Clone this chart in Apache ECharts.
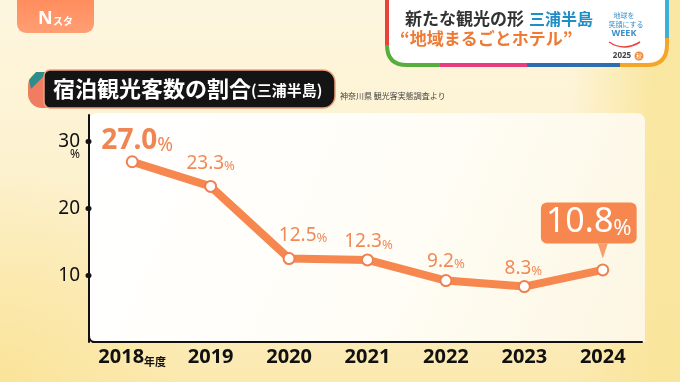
<!DOCTYPE html>
<html><head><meta charset="utf-8">
<script src="https://cdn.jsdelivr.net/npm/echarts@6/dist/echarts.min.js"></script>
<style>
html,body{margin:0;padding:0;}
body{width:680px;height:382px;overflow:hidden;
background:
 radial-gradient(ellipse 30% 55% at 0% 100%, rgba(250,226,145,0.7) 0%, rgba(250,226,145,0) 100%),
 linear-gradient(to right, rgba(249,228,152,0) 0%, rgba(249,228,152,0) 84%, rgba(249,228,152,0.85) 96%),
 linear-gradient(to bottom, #fdf6df 0%, #fdf3d3 35%, #fcedc0 75%, #fbe9b0 100%);}
#c{width:680px;height:382px;}
</style></head><body><div id="c"></div>
<script>
// ---- data ----
const categories = ['2018年度', '2019', '2020', '2021', '2022', '2023', '2024'];
const shareValues = [27.0, 23.3, 12.5, 12.3, 9.2, 8.3, 10.8];
const yTickValues = [10, 20, 30];
const highlightIndex = 6;

// ---- label placement (style only) ----
const labelOffsets = [[5, -21], [0, -23], [14, -23], [1, -18], [0, -19], [-1, -18], [-14, -47]];

const ORANGE = '#f5874f';
const LABEL = '#f08a58';
const FONT = '"Noto Sans", "Noto Sans CJK JP", sans-serif';
const CJK = '"Noto Sans CJK JP", "Noto Sans", sans-serif';

function makeLabel(i) {
  const base = {
    show: true, position: 'inside',
    formatter: p => '{n|' + Number(p.value).toFixed(1) + '}{p|%}'
  };
  if (i === 0) {
    base.rich = {
      n: {fontSize: 28, fontWeight: 'bold', color: '#ef8550', fontFamily: FONT, verticalAlign: 'bottom'},
      p: {fontSize: 19, color: '#ef8550', fontFamily: FONT, verticalAlign: 'bottom'}
    };
  } else if (i === highlightIndex) {
    base.backgroundColor = ORANGE;
    base.borderRadius = 6;
    base.padding = [3, 5, 4, 5];
    base.rich = {
      n: {fontSize: 34, color: '#ffffff', fontFamily: FONT, verticalAlign: 'bottom'},
      p: {fontSize: 22, color: '#ffffff', fontFamily: FONT, verticalAlign: 'bottom'}
    };
  } else {
    base.rich = {
      n: {fontSize: 19, color: LABEL, fontFamily: FONT, verticalAlign: 'bottom'},
      p: {fontSize: 13, color: LABEL, fontFamily: FONT, verticalAlign: 'bottom'}
    };
  }
  return base;
}

function seg(x1, y1, x2, y2, color, w) {
  return {type: 'line', z: 6, silent: true, shape: {x1, y1, x2, y2}, style: {stroke: color, lineWidth: w, lineCap: 'butt'}};
}
function curve(x1, y1, cx, cy, x2, y2, color, w, z) {
  return {type: 'bezierCurve', z: z || 6, silent: true, shape: {x1, y1, x2, y2, cpx1: cx, cpy1: cy}, style: {stroke: color, lineWidth: w, fill: null}};
}

const chart = echarts.init(document.getElementById('c'), null, {renderer: 'canvas'});

const option = {
  backgroundColor: 'transparent',
  animation: false,
  grid: {left: 93, right: 38, top: 115, bottom: 40, containLabel: false},
  xAxis: {
    type: 'category', data: categories, boundaryGap: true,
    axisLine: {show: true, lineStyle: {color: '#111', width: 2}},
    axisTick: {show: false},
    axisLabel: {
      interval: 0, margin: 5, color: '#111', fontSize: 20, fontWeight: 'bold', fontFamily: FONT,
      formatter: v => v.endsWith('年度') ? '{y|' + v.slice(0, -2) + '}{s|年度}' : '{y|' + v + '}',
      rich: {
        y: {fontSize: 20, fontWeight: 'bold', color: '#111', fontFamily: FONT, verticalAlign: 'bottom'},
        s: {fontSize: 11, fontWeight: 'bold', color: '#111', fontFamily: CJK, verticalAlign: 'bottom'}
      }
    },
    splitLine: {show: false}
  },
  yAxis: {
    type: 'value', min: 0, max: 34, interval: 10, offset: 4,
    axisLine: {show: true, lineStyle: {color: '#111', width: 2}},
    axisTick: {show: true, customValues: yTickValues, length: 1, lineStyle: {color: '#111', width: 5, cap: 'round'}},
    axisLabel: {customValues: yTickValues, margin: 9, color: '#111', fontSize: 19, fontFamily: FONT},
    splitLine: {show: false}
  },
  series: [
    {
      type: 'line', z: 3,
      data: shareValues.map((v, i) => ({value: v, label: makeLabel(i)})),
      lineStyle: {color: ORANGE, width: 8},
      symbol: 'circle', symbolSize: 11,
      itemStyle: {color: '#ffffff', borderColor: '#f08050', borderWidth: 2},
      labelLayout: p => ({dx: labelOffsets[p.dataIndex][0], dy: labelOffsets[p.dataIndex][1], hideOverlap: false})
    },
    {
      type: 'scatter', z: 4, silent: true,
      data: shareValues.map((v, i) => i === highlightIndex ? v : '-'),
      symbol: 'path://M0,0 L10,0 L5,12 Z', symbolSize: [10, 15], symbolOffset: [0, -19],
      itemStyle: {color: ORANGE}
    }
  ],
  graphic: [
    // white plot panel
    {type: 'rect', z: -10, silent: true, shape: {x: 89, y: 113, width: 556, height: 229, r: [8, 8, 0, 0]},
      style: {fill: new echarts.graphic.LinearGradient(0, 0, 1, 1, [
        {offset: 0, color: '#ffffff'}, {offset: 0.55, color: '#fffdf6'}, {offset: 1, color: '#fcf6e2'}])}},
    // axis corner
    curve(89, 336, 89, 342, 95, 342, '#111', 2, 5),
    {type: 'text', z: 5, style: {text: '%', x: 75, y: 155, fontSize: 12, fontFamily: FONT, fill: '#111', align: 'center', verticalAlign: 'middle'}},
    // top-left logo
    {type: 'rect', z: 5, shape: {x: 17, y: -12, width: 77, height: 45, r: 9},
      style: {fill: new echarts.graphic.LinearGradient(0, 0, 0, 1, [{offset: 0, color: '#ff8656'}, {offset: 1, color: '#ff9f74'}])}},
    {type: 'text', z: 6, style: {text: 'N', x: 38, y: 19, fontSize: 18, fontWeight: 'bold', fontFamily: FONT, fill: '#fff', verticalAlign: 'middle'}},
    {type: 'text', z: 6, style: {text: 'スタ', x: 53, y: 21, fontSize: 10, fontWeight: 'bold', fontFamily: CJK, fill: '#fff', verticalAlign: 'middle'}},
    // title banner
    {type: 'rect', z: 5, shape: {x: 28, y: 72, width: 30, height: 36, r: [14, 0, 0, 14]}, style: {fill: '#f07d62'}},
    {type: 'polygon', z: 6, shape: {points: [[36, 72], [48, 72], [31, 89], [29, 80]]}, style: {fill: '#2e8d8b'}},
    {type: 'rect', z: 7, shape: {x: 44, y: 70, width: 291, height: 38, r: [6, 12, 12, 6]},
      style: {fill: '#141414', stroke: '#f0a07e', lineWidth: 1.5}},
    {type: 'text', z: 8, style: {text: '宿泊観光客数の割合', x: 53, y: 89, fontSize: 22, fontWeight: 'bold', fontFamily: CJK, fill: '#fff', verticalAlign: 'middle'}},
    {type: 'text', z: 8, style: {text: '(三浦半島)', x: 251, y: 90, fontSize: 15, fontWeight: 'bold', fontFamily: CJK, fill: '#fff', verticalAlign: 'middle'}},
    {type: 'text', z: 5, style: {text: '神奈川県 観光客実態調査より', x: 340, y: 96, fontSize: 8, fontFamily: CJK, fill: '#444', verticalAlign: 'middle'}},
    // top-right box
    {type: 'rect', z: 5, shape: {x: 387, y: -25, width: 280, height: 90, r: 20}, style: {fill: '#ffffff'}},
    seg(387, -5, 387, 45, '#e8423a', 4),
    curve(387, 45, 387, 65, 407, 65, '#57ae3c', 4),
    seg(406, 65, 440, 65, '#57ae3c', 4),
    seg(440, 65, 527, 65, '#e83c7c', 4),
    seg(527, 65, 620, 65, '#2f6db3', 4),
    seg(620, 65, 648, 65, '#f4a62a', 4),
    curve(647, 65, 667, 65, 667, 45, '#f4a62a', 4),
    seg(667, 46, 667, 38, '#f4a62a', 4),
    seg(667, 38, 667, -5, '#3bb0d9', 4),
    {type: 'text', z: 7, style: {text: '新たな観光の形', x: 405, y: 19, fontSize: 17, fontWeight: 'bold', fontFamily: CJK, fill: '#333', verticalAlign: 'middle'}},
    {type: 'text', z: 7, style: {text: '三浦半島', x: 529, y: 19, fontSize: 16, fontWeight: 'bold', fontFamily: CJK, fill: '#1e8fc6', verticalAlign: 'middle'}},
    {type: 'text', z: 7, style: {text: '“地域まるごとホテル”', x: 400, y: 39, fontSize: 17, fontWeight: 'bold', fontFamily: CJK, fill: '#ee7a33', verticalAlign: 'middle'}},
    {type: 'text', z: 7, style: {text: '地球を', x: 624, y: 15, fontSize: 7, fontFamily: CJK, fill: '#3a8fc8', align: 'center', verticalAlign: 'middle'}},
    {type: 'text', z: 7, style: {text: '笑顔にする', x: 626, y: 24, fontSize: 7, fontFamily: CJK, fill: '#3a8fc8', align: 'center', verticalAlign: 'middle'}},
    {type: 'text', z: 7, style: {text: 'WEEK', x: 624, y: 33, fontSize: 9, fontWeight: 'bold', fontFamily: FONT, fill: '#3a8fc8', align: 'center', verticalAlign: 'middle'}},
    curve(609, 42, 624, 52, 640, 42, '#e8423a', 1.5, 7),
    {type: 'text', z: 7, style: {text: '2025', x: 622, y: 56, fontSize: 8, fontWeight: 'bold', fontFamily: FONT, fill: '#444', align: 'center', verticalAlign: 'middle'}},
    {type: 'circle', z: 7, shape: {cx: 639, cy: 56, r: 4.5}, style: {fill: '#f08a3a'}},
    {type: 'text', z: 8, style: {text: '秋', x: 639, y: 56, fontSize: 6, fontFamily: CJK, fill: '#fff', align: 'center', verticalAlign: 'middle'}}
  ]
};
chart.setOption(option);
</script></body></html>
